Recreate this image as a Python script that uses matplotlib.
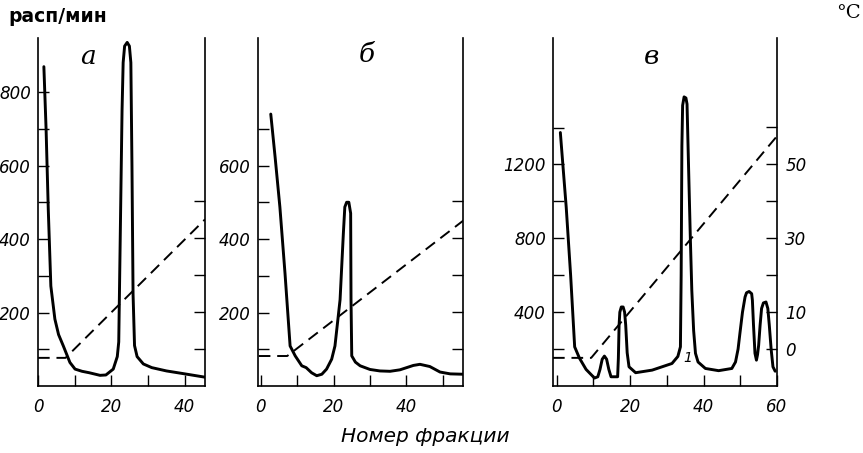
import numpy as np
import matplotlib
matplotlib.use("Agg")
import matplotlib.pyplot as plt

# panel a: activity, counts/min
a_x = [1.6, 2.2, 2.8, 3.5, 4.6, 5.6, 6.9, 8.7, 10.1, 12.0, 14.0, 16.9, 18.5,
       20.5, 21.6, 22.0, 22.4, 22.9, 23.2, 23.6, 24.3, 24.9, 25.3, 25.6, 25.9,
       26.3, 27.0, 28.7, 31.0, 35.0, 40.0, 45.5]
a_y = [869, 700, 480, 272, 182, 140, 109, 64, 46, 40, 36, 29, 30,
       46, 80, 120, 400, 750, 880, 925, 935, 925, 880, 600, 250,
       110, 80, 60, 50, 41, 33, 24]

# panel б
b_x = [2.8, 4.0, 5.3, 6.7, 8.1, 9.5, 11.3, 12.5, 14.0, 15.4, 16.8, 18.1, 19.5,
       20.4, 21.8, 22.7, 23.1, 23.6, 24.2, 24.7, 24.8, 25.0, 26.0, 27.3, 30.0,
       32.7, 35.5, 38.2, 41.9, 43.7, 46.4, 49.2, 52.0, 55.6]
b_y = [740, 622, 487, 307, 109, 82, 55, 50, 36, 28, 32, 46, 73,
       109, 235, 415, 487, 500, 500, 470, 235, 82, 65, 55, 45,
       41, 40, 44, 56, 59, 53, 38, 33, 32]

# panel в
c_x = [1.0, 1.8, 2.6, 3.8, 4.9, 6.2, 8.0, 10.3,
       11.2, 11.8, 12.4, 13.0, 13.6, 14.2, 14.8,
       16.6, 16.8, 17.0, 17.2, 17.6, 18.1, 18.5, 18.8, 19.2, 19.7,
       21.5, 26.0, 31.4, 33.0, 33.7, 33.9, 34.1, 34.3, 34.7, 35.2, 35.5,
       35.9, 36.4, 36.8, 37.3, 37.8, 38.5, 40.5, 44.1,
       47.7, 48.7, 49.4, 49.9, 50.6, 51.3, 51.7, 52.4, 53.1, 53.3, 53.6,
       54.0, 54.4, 54.7, 55.0, 55.4, 55.8, 56.3, 57.0, 57.5, 57.9, 58.4,
       58.9, 59.5]
c_y = [1373, 1170, 968, 600, 212, 151, 90, 43,
       50, 90, 145, 162, 145, 90, 50,
       50, 150, 330, 400, 428, 428, 400, 330, 180, 104,
       72, 86, 122, 160, 212, 600, 1300, 1520, 1566, 1560, 1527,
       1200, 800, 518, 300, 177, 130, 95, 83,
       95, 130, 200, 285, 400, 482, 505, 512, 500, 464, 330,
       177, 140, 170, 220, 330, 420, 450, 455, 420, 330, 200,
       104, 80]

# temperature gradient, °C
a_tx = [0, 7.5, 45.5]
a_ty = [-2.4, -2.4, 35]
b_tx = [-0.5, 7.3, 56]
b_ty = [-1.9, -1.9, 35]
c_tx = [-1, 9.4, 60]
c_ty = [-2.4, -2.4, 57.5]

W, H = 863, 453
fig = plt.figure(figsize=(W / 100, H / 100), dpi=100)

tickfont = dict(fontsize=12, fontstyle="italic")
lw_curve = 2.1
lw_spine = 1.2


def panel(left, right, xlim, ylim, yticks_major, yticks_minor, xlabels,
          x, y, tx, ty, tticks, tlabels, letter, letter_pos):
    ax = fig.add_axes([left / W, 1 - 386 / H, (right - left) / W, (386 - 38) / H])
    ax.set_xlim(*xlim)
    ax.set_ylim(*ylim)
    ax.plot(x, y, color="black", lw=lw_curve, solid_capstyle="round",
            solid_joinstyle="round", zorder=3)
    ax.spines["top"].set_visible(False)
    ax.spines["right"].set_visible(False)
    for s in ("left", "bottom"):
        ax.spines[s].set_linewidth(lw_spine)
    ax.set_xticks(np.arange(0, xlim[1] + 0.01, 10))
    ax.set_xticklabels([str(v) if v in xlabels else "" for v in
                        range(0, int(xlim[1]) + 1, 10)], **tickfont)
    ax.set_yticks(yticks_minor)
    ax.set_yticklabels([str(v) if v in yticks_major else "" for v in yticks_minor],
                       **tickfont)
    ax.tick_params(direction="in", length=8, width=1.0, pad=5)
    ax.tick_params(axis="x", pad=9)

    tx_ax = ax.twinx()
    tx_ax.set_ylim(-10, 84)
    tx_ax.plot(tx, ty, color="black", lw=1.4, linestyle=(0, (6, 3.5)), zorder=2)
    for s in ("left", "top", "bottom"):
        tx_ax.spines[s].set_visible(False)
    tx_ax.spines["right"].set_linewidth(lw_spine)
    tx_ax.set_yticks(tticks)
    tx_ax.set_yticklabels([str(v) if v in tlabels else "" for v in tticks], **tickfont)
    tx_ax.tick_params(direction="in", length=8, width=1.0, pad=6)

    ax.text(letter_pos[0], letter_pos[1], letter, transform=ax.transAxes,
            fontsize=19, fontstyle="italic", family="DejaVu Serif",
            ha="center", va="center")
    return ax


ax_a = panel(38, 205, (0, 45.5), (0, 947), [200, 400, 600, 800],
             list(range(100, 801, 100)), [0, 20, 40],
             a_x, a_y, a_tx, a_ty, [0, 10, 20, 30, 40], [],
             "а", ((88 - 38) / 167, (386 - 57) / 348))

ax_b = panel(258, 463, (-0.7, 55.5), (0, 947), [200, 400, 600],
             list(range(100, 701, 100)), [0, 20, 40],
             b_x, b_y, b_tx, b_ty, [0, 10, 20, 30, 40], [],
             "б", ((367 - 258) / 205, (386 - 55) / 348))

ax_c = panel(553, 777, (-1, 60), (0, 1885), [400, 800, 1200],
             list(range(200, 1401, 200)), [0, 20, 40, 60],
             c_x, c_y, c_tx, c_ty, [0, 10, 20, 30, 40, 50, 60], [0, 10, 30, 50],
             "в", ((652 - 553) / 224, (386 - 57) / 348))

ax_c.text(35.6, 150, "1", fontsize=10, fontstyle="italic", ha="center", va="center")

fig.text(8 / W, 1 - 17 / H, "расп/мин", fontsize=13.5, fontweight="bold",
         ha="left", va="center")
fig.text(848 / W, 1 - 13 / H, "°C", fontsize=14, family="DejaVu Serif",
         ha="center", va="center")
fig.text(425 / W, 1 - 436 / H, "Номер фракции", fontsize=14.5, fontstyle="italic",
         ha="center", va="center")

fig.savefig("out.png", dpi=100)
